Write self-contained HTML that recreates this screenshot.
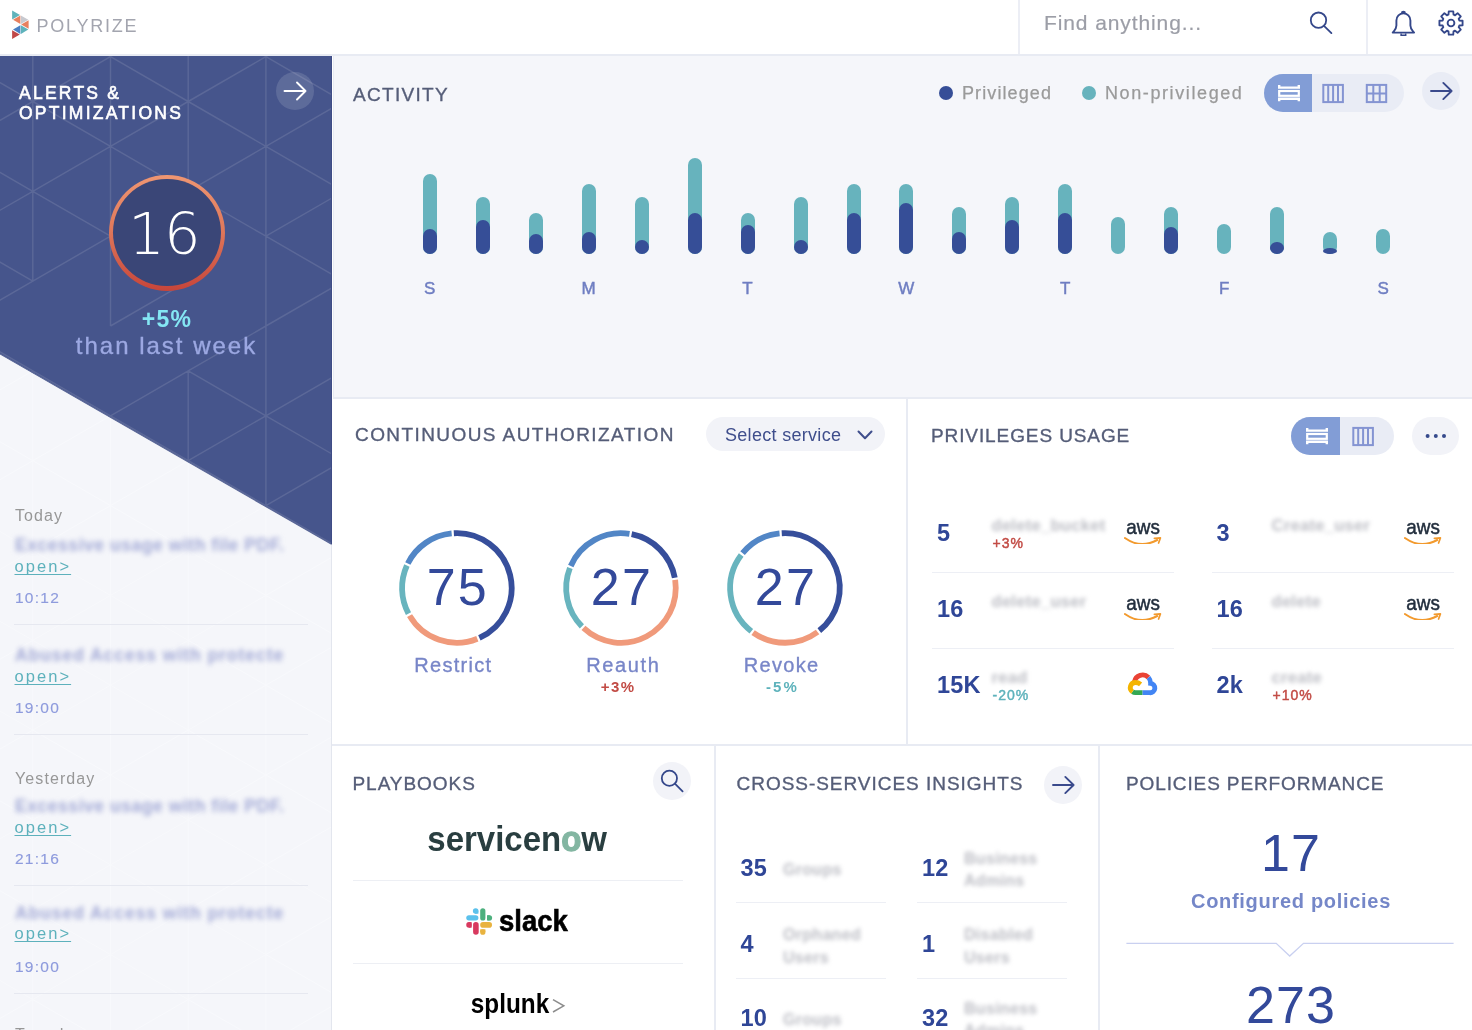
<!DOCTYPE html>
<html><head><meta charset="utf-8"><title>Polyrize</title>
<style>
*{box-sizing:border-box;margin:0;padding:0}
html,body{width:1472px;height:1030px;overflow:hidden;background:#fff;font-family:"Liberation Sans",Arial,sans-serif}
.abs{position:absolute}
#header{position:absolute;z-index:5;left:0;top:0;width:1472px;height:56px;background:#fff;border-bottom:2px solid #E8EBF3}
.htitle{position:absolute;font-size:19px;letter-spacing:1.1px;color:#555d78;-webkit-text-stroke:0.35px #555d78;white-space:nowrap;line-height:1}

.day{position:absolute;left:0;font-size:16px;color:#979797;letter-spacing:1.1px;margin-top:2.5px;line-height:1;white-space:nowrap}
.atitle{position:absolute;left:0;font-size:17.5px;font-weight:bold;color:#A2A9D6;margin-top:0.7px;letter-spacing:0.55px;line-height:20px;white-space:nowrap;filter:blur(2.4px)}
.aopen{position:absolute;left:-0.5px;font-size:16.5px;color:#5DB1BC;letter-spacing:2.05px;line-height:1;margin-top:3px;text-decoration:underline;text-decoration-skip-ink:none;text-underline-offset:2.2px;text-decoration-thickness:1px;white-space:nowrap}
.atime{position:absolute;left:0;font-size:15.5px;color:#8E9BDD;letter-spacing:1.25px;margin-top:0.5px;-webkit-text-stroke:0.15px #8E9BDD;line-height:1;white-space:nowrap}
.adiv{position:absolute;left:-1px;width:294px;height:1px;background:#E6E8F0}

.leg{font-size:18px;color:#9A9A9A;letter-spacing:1.1px;line-height:1;white-space:nowrap;-webkit-text-stroke:0.25px #9A9A9A}
.tog{background:#E9ECF5;border-radius:19px}
.togon{background:#829DD6;border-radius:19px 0 0 19px}
.bt{position:absolute;width:14px;background:#67B3BD;border-radius:7px}
.bd{position:absolute;width:14px;background:#364E97;border-radius:7px}
.dl{position:absolute;top:279.5px;width:40px;text-align:center;font-size:17px;color:#6F7EC2;line-height:1;-webkit-text-stroke:0.45px #6F7EC2}

.dnum{position:absolute;top:561px;width:100px;text-align:center;font-size:52px;color:#33499A;line-height:1;letter-spacing:2.2px;text-indent:2px}
.dlab{position:absolute;top:655px;width:106px;text-align:center;font-size:20px;color:#7886C8;line-height:1;letter-spacing:1.3px;-webkit-text-stroke:0.35px #7886C8}
.dpct{position:absolute;top:678.5px;width:106px;text-align:center;font-size:15px;font-weight:bold;line-height:1;letter-spacing:1.4px}

.punum{position:absolute;font-size:23.5px;font-weight:bold;color:#2F4697;line-height:1;white-space:nowrap;letter-spacing:0.2px}
.pulab{position:absolute;font-size:16.5px;font-weight:bold;color:#BCBDC4;line-height:1;white-space:nowrap;filter:blur(2.2px);letter-spacing:0.3px}
.pupct{position:absolute;font-size:14px;font-weight:normal;-webkit-text-stroke:0.45px currentColor;line-height:1;white-space:nowrap;letter-spacing:1px}

.csilab{position:absolute;font-size:16px;font-weight:bold;color:#BCBDC4;line-height:22.5px;white-space:nowrap;filter:blur(2.2px);letter-spacing:0.3px}
.panel{position:absolute;background:#fff}
</style></head>
<body>
<!-- HEADER -->
<div id="header">
  <svg class="abs" style="left:0;top:0" width="40" height="50" viewBox="0 0 40 50">
    <polygon points="12.1,10.5 12.1,19.5 20,15" fill="#5FB3BB"/>
    <polygon points="20.4,15.6 20.4,24 13,19.8" fill="#E8805E"/>
    <polygon points="20.9,15.6 20.9,24 28.3,19.8" fill="#C8C9CF"/>
    <polygon points="28.6,20.3 28.6,28.8 21.2,24.5" fill="#E8805E"/>
    <polygon points="20.4,25.2 20.4,34 13,29.6" fill="#4A80C4"/>
    <polygon points="20.9,25.2 20.9,34 28.3,29.6" fill="#5FB3BB"/>
    <polygon points="12.1,30.2 12.1,39 19.8,34.6" fill="#C04848"/>
  </svg>
  <div id="logotext" class="abs" style="left:36.6px;top:17px;font-size:18px;letter-spacing:1.75px;color:#A3A5AF;line-height:1">POLYRIZE</div>
  <div class="abs" style="left:1018px;top:0;width:2px;height:54px;background:#ECEEF5"></div>
  <div id="find" class="abs" style="left:1044px;top:12px;font-size:21px;letter-spacing:0.9px;color:#9C9EA7;line-height:1;-webkit-text-stroke:0.2px #9C9EA7">Find anything...</div>
  <svg class="abs" style="left:1306px;top:8px" width="30" height="30" viewBox="0 0 30 30">
    <circle cx="12.5" cy="12.2" r="7.7" fill="none" stroke="#34478A" stroke-width="1.8"/>
    <line x1="18" y1="17.8" x2="25.4" y2="25.1" stroke="#34478A" stroke-width="1.8" stroke-linecap="round"/>
  </svg>
  <div class="abs" style="left:1366px;top:0;width:2px;height:54px;background:#ECEEF5"></div>
  <svg class="abs" style="left:1388px;top:6px" width="32" height="34" viewBox="0 0 32 34">
    <path d="M8.4 14.4 A7.0 7.0 0 0 1 22.4 14.4 L22.4 19.6 C22.4 23.2 24.6 24.6 26.1 26.6 L4.7 26.6 C6.2 24.6 8.4 23.2 8.4 19.6 Z" fill="none" stroke="#34478A" stroke-width="1.9" stroke-linejoin="round"/>
    <ellipse cx="15.4" cy="6.2" rx="2.4" ry="1.5" fill="#34478A"/>
    <path d="M13.1 27.4 V29.2 H17.7 V27.4" fill="none" stroke="#34478A" stroke-width="1.5"/>
  </svg>
  <svg class="abs" style="left:1436px;top:8px" width="30" height="30" viewBox="0 0 30 30">
    <g transform="translate(15,15)" fill="none" stroke="#34478A" stroke-width="1.85" stroke-linejoin="round">
      <path d="M-2.54 -8.32 L-2.25 -11.58 L2.25 -11.58 L2.54 -8.32 A8.7 8.7 0 0 1 4.08 -7.68 L6.60 -9.78 L9.78 -6.60 L7.68 -4.08 A8.7 8.7 0 0 1 8.32 -2.54 L11.58 -2.25 L11.58 2.25 L8.32 2.54 A8.7 8.7 0 0 1 7.68 4.08 L9.78 6.60 L6.60 9.78 L4.08 7.68 A8.7 8.7 0 0 1 2.54 8.32 L2.25 11.58 L-2.25 11.58 L-2.54 8.32 A8.7 8.7 0 0 1 -4.08 7.68 L-6.60 9.78 L-9.78 6.60 L-7.68 4.08 A8.7 8.7 0 0 1 -8.32 2.54 L-11.58 2.25 L-11.58 -2.25 L-8.32 -2.54 A8.7 8.7 0 0 1 -7.68 -4.08 L-9.78 -6.60 L-6.60 -9.78 L-4.08 -7.68 A8.7 8.7 0 0 1 -2.54 -8.32 Z"/>
      <circle r="3.4"/>
    </g>
  </svg>
</div>

<!-- SIDEBAR -->
<div id="sidebar" class="abs" style="left:0;top:0;width:332px;height:1030px;background:#F5F6FA;overflow:hidden">
  <svg class="abs" style="left:0;top:0" width="332" height="1030" viewBox="0 0 332 1030">
    <defs><clipPath id="cb"><polygon points="0,56 332,56 332,544.5 0,353.9"/></clipPath><clipPath id="cl"><polygon points="0,353.9 332,544.5 332,1030 0,1030"/></clipPath></defs>
    <path clip-path="url(#cl)" d="M-44.9 236.2L-44.9 326.0 M-44.9 326.0L-44.9 415.8 M-44.9 326.0L32.8 370.9 M-44.9 326.0L32.8 281.1 M-44.9 415.8L-44.9 505.6 M-44.9 415.8L32.8 460.7 M-44.9 415.8L32.8 370.9 M-44.9 505.6L-44.9 595.4 M-44.9 505.6L32.8 550.5 M-44.9 505.6L32.8 460.7 M-44.9 595.4L-44.9 685.2 M-44.9 595.4L32.8 640.3 M-44.9 595.4L32.8 550.5 M-44.9 685.2L-44.9 775.0 M-44.9 685.2L32.8 730.1 M-44.9 685.2L32.8 640.3 M-44.9 775.0L-44.9 864.8 M-44.9 775.0L32.8 819.9 M-44.9 775.0L32.8 730.1 M-44.9 864.8L-44.9 954.6 M-44.9 864.8L32.8 909.7 M-44.9 864.8L32.8 819.9 M-44.9 954.6L-44.9 1044.4 M-44.9 954.6L32.8 999.5 M-44.9 954.6L32.8 909.7 M-44.9 1044.4L32.8 999.5 M32.8 281.1L32.8 370.9 M32.8 281.1L110.5 326.0 M32.8 370.9L32.8 460.7 M32.8 370.9L110.5 415.8 M32.8 370.9L110.5 326.0 M32.8 460.7L32.8 550.5 M32.8 460.7L110.5 505.6 M32.8 460.7L110.5 415.8 M32.8 550.5L32.8 640.3 M32.8 550.5L110.5 595.4 M32.8 550.5L110.5 505.6 M32.8 640.3L32.8 730.1 M32.8 640.3L110.5 685.2 M32.8 640.3L110.5 595.4 M32.8 730.1L32.8 819.9 M32.8 730.1L110.5 775.0 M32.8 730.1L110.5 685.2 M32.8 819.9L32.8 909.7 M32.8 819.9L110.5 864.8 M32.8 819.9L110.5 775.0 M32.8 909.7L32.8 999.5 M32.8 909.7L110.5 954.6 M32.8 909.7L110.5 864.8 M32.8 999.5L32.8 1089.3 M32.8 999.5L110.5 1044.4 M32.8 999.5L110.5 954.6 M110.5 236.2L110.5 326.0 M110.5 326.0L110.5 415.8 M110.5 326.0L188.2 370.9 M110.5 326.0L188.2 281.1 M110.5 415.8L110.5 505.6 M110.5 415.8L188.2 460.7 M110.5 415.8L188.2 370.9 M110.5 505.6L110.5 595.4 M110.5 505.6L188.2 550.5 M110.5 505.6L188.2 460.7 M110.5 595.4L110.5 685.2 M110.5 595.4L188.2 640.3 M110.5 595.4L188.2 550.5 M110.5 685.2L110.5 775.0 M110.5 685.2L188.2 730.1 M110.5 685.2L188.2 640.3 M110.5 775.0L110.5 864.8 M110.5 775.0L188.2 819.9 M110.5 775.0L188.2 730.1 M110.5 864.8L110.5 954.6 M110.5 864.8L188.2 909.7 M110.5 864.8L188.2 819.9 M110.5 954.6L110.5 1044.4 M110.5 954.6L188.2 999.5 M110.5 954.6L188.2 909.7 M110.5 1044.4L188.2 999.5 M188.2 281.1L188.2 370.9 M188.2 281.1L265.9 326.0 M188.2 370.9L188.2 460.7 M188.2 370.9L265.9 415.8 M188.2 370.9L265.9 326.0 M188.2 460.7L188.2 550.5 M188.2 460.7L265.9 505.6 M188.2 460.7L265.9 415.8 M188.2 550.5L188.2 640.3 M188.2 550.5L265.9 595.4 M188.2 550.5L265.9 505.6 M188.2 640.3L188.2 730.1 M188.2 640.3L265.9 685.2 M188.2 640.3L265.9 595.4 M188.2 730.1L188.2 819.9 M188.2 730.1L265.9 775.0 M188.2 730.1L265.9 685.2 M188.2 819.9L188.2 909.7 M188.2 819.9L265.9 864.8 M188.2 819.9L265.9 775.0 M188.2 909.7L188.2 999.5 M188.2 909.7L265.9 954.6 M188.2 909.7L265.9 864.8 M188.2 999.5L188.2 1089.3 M188.2 999.5L265.9 1044.4 M188.2 999.5L265.9 954.6 M265.9 236.2L265.9 326.0 M265.9 326.0L265.9 415.8 M265.9 326.0L343.6 370.9 M265.9 326.0L343.6 281.1 M265.9 415.8L265.9 505.6 M265.9 415.8L343.6 460.7 M265.9 415.8L343.6 370.9 M265.9 505.6L265.9 595.4 M265.9 505.6L343.6 550.5 M265.9 505.6L343.6 460.7 M265.9 595.4L265.9 685.2 M265.9 595.4L343.6 640.3 M265.9 595.4L343.6 550.5 M265.9 685.2L265.9 775.0 M265.9 685.2L343.6 730.1 M265.9 685.2L343.6 640.3 M265.9 775.0L265.9 864.8 M265.9 775.0L343.6 819.9 M265.9 775.0L343.6 730.1 M265.9 864.8L265.9 954.6 M265.9 864.8L343.6 909.7 M265.9 864.8L343.6 819.9 M265.9 954.6L265.9 1044.4 M265.9 954.6L343.6 999.5 M265.9 954.6L343.6 909.7 M265.9 1044.4L343.6 999.5" stroke="#F8F9FC" stroke-width="1" fill="none"/>
    <polygon points="0,56 332,56 332,544.5 0,353.9" fill="#46558C"/>
    <path clip-path="url(#cb)" stroke-opacity="1" d="M-44.9 -33.2L-44.9 56.6 M-44.9 56.6L-44.9 146.4 M-44.9 56.6L32.8 101.5 M-44.9 56.6L32.8 11.7 M-44.9 146.4L-44.9 236.2 M-44.9 146.4L32.8 191.3 M-44.9 146.4L32.8 101.5 M-44.9 236.2L-44.9 326.0 M-44.9 236.2L32.8 281.1 M-44.9 236.2L32.8 191.3 M-44.9 326.0L-44.9 415.8 M-44.9 326.0L32.8 370.9 M-44.9 326.0L32.8 281.1 M-44.9 415.8L-44.9 505.6 M-44.9 415.8L32.8 460.7 M-44.9 415.8L32.8 370.9 M-44.9 505.6L-44.9 595.4 M-44.9 505.6L32.8 550.5 M-44.9 505.6L32.8 460.7 M-44.9 595.4L-44.9 685.2 M-44.9 595.4L32.8 640.3 M-44.9 595.4L32.8 550.5 M32.8 11.7L32.8 101.5 M32.8 11.7L110.5 56.6 M32.8 101.5L32.8 191.3 M32.8 101.5L110.5 146.4 M32.8 101.5L110.5 56.6 M32.8 191.3L32.8 281.1 M32.8 191.3L110.5 236.2 M32.8 191.3L110.5 146.4 M32.8 281.1L110.5 236.2 M32.8 370.9L32.8 460.7 M32.8 370.9L110.5 415.8 M32.8 460.7L32.8 550.5 M32.8 460.7L110.5 505.6 M32.8 460.7L110.5 415.8 M32.8 550.5L32.8 640.3 M32.8 550.5L110.5 595.4 M32.8 550.5L110.5 505.6 M32.8 640.3L110.5 595.4 M110.5 -33.2L110.5 56.6 M110.5 56.6L110.5 146.4 M110.5 56.6L188.2 101.5 M110.5 56.6L188.2 11.7 M110.5 146.4L110.5 236.2 M110.5 146.4L188.2 191.3 M110.5 146.4L188.2 101.5 M110.5 236.2L110.5 326.0 M110.5 236.2L188.2 281.1 M110.5 236.2L188.2 191.3 M110.5 326.0L188.2 281.1 M110.5 415.8L110.5 505.6 M110.5 415.8L188.2 460.7 M110.5 415.8L188.2 370.9 M110.5 505.6L110.5 595.4 M110.5 505.6L188.2 550.5 M110.5 505.6L188.2 460.7 M110.5 595.4L110.5 685.2 M110.5 595.4L188.2 640.3 M110.5 595.4L188.2 550.5 M188.2 11.7L188.2 101.5 M188.2 11.7L265.9 56.6 M188.2 101.5L188.2 191.3 M188.2 101.5L265.9 146.4 M188.2 101.5L265.9 56.6 M188.2 191.3L188.2 281.1 M188.2 191.3L265.9 236.2 M188.2 191.3L265.9 146.4 M188.2 370.9L188.2 460.7 M188.2 370.9L265.9 415.8 M188.2 370.9L265.9 326.0 M188.2 460.7L188.2 550.5 M188.2 460.7L265.9 505.6 M188.2 460.7L265.9 415.8 M188.2 550.5L188.2 640.3 M188.2 550.5L265.9 595.4 M188.2 550.5L265.9 505.6 M188.2 640.3L265.9 595.4 M265.9 -33.2L265.9 56.6 M265.9 56.6L265.9 146.4 M265.9 56.6L343.6 101.5 M265.9 56.6L343.6 11.7 M265.9 146.4L265.9 236.2 M265.9 146.4L343.6 191.3 M265.9 146.4L343.6 101.5 M265.9 236.2L265.9 326.0 M265.9 236.2L343.6 281.1 M265.9 236.2L343.6 191.3 M265.9 326.0L265.9 415.8 M265.9 326.0L343.6 281.1 M265.9 415.8L265.9 505.6 M265.9 415.8L343.6 460.7 M265.9 415.8L343.6 370.9 M265.9 505.6L265.9 595.4 M265.9 505.6L343.6 550.5 M265.9 505.6L343.6 460.7 M265.9 595.4L265.9 685.2 M265.9 595.4L343.6 640.3 M265.9 595.4L343.6 550.5" stroke="#5B6898" stroke-width="1.45" fill="none"/>
    <path d="M0 353.9 L332 544.5" stroke="#5A6797" stroke-width="1.2" fill="none"/>
    <path d="M331.5 56 V544.5" stroke="#3F4C86" stroke-width="1"/>
    <path d="M331.5 544.5 V1030" stroke="#E3E6EE" stroke-width="1"/>
  </svg>
  <div id="alt1" class="abs" style="left:19px;top:83px;font-size:17.5px;line-height:20.4px;letter-spacing:2.25px;color:#fff;-webkit-text-stroke:0.6px #fff;white-space:nowrap">ALERTS &amp;<br>OPTIMIZATIONS</div>
  <div class="abs" style="left:276px;top:72px;width:38px;height:38px;border-radius:50%;background:rgba(255,255,255,0.13)"></div>
  <svg class="abs" style="left:276px;top:72px" width="38" height="38" viewBox="0 0 38 38">
    <path d="M8.5 19 L29.5 19 M21 10.5 L29.5 19 L21 27.5" fill="none" stroke="#fff" stroke-width="1.9" stroke-linecap="round" stroke-linejoin="round"/>
  </svg>
  <div class="abs" style="left:108.9px;top:174.5px;width:116px;height:116px;border-radius:50%;background:linear-gradient(180deg,#EF9672 0%,#E07A5C 45%,#C7453A 100%)"></div>
  <div class="abs" style="left:113.1px;top:178.7px;width:107.6px;height:107.6px;border-radius:50%;background:#3A4677"></div>
  <div id="n16" class="abs" style="left:107.9px;top:177px;width:116px;height:116px;line-height:116px;text-align:center;font-family:'DejaVu Sans';font-weight:200;font-size:57.5px;color:#fff;letter-spacing:-1px;text-indent:-4px">16</div>
  <div id="p5" class="abs" style="left:0;top:307.5px;width:333px;text-align:center;font-size:23px;font-weight:bold;color:#84E7F4;line-height:1;letter-spacing:1.2px;text-indent:1px">+5%</div>
  <div id="tlw" class="abs" style="left:0;top:334px;width:333px;text-align:center;font-size:24px;color:#9CA8E2;letter-spacing:2.0px;line-height:1;-webkit-text-stroke:0.35px #9CA8E2">than last week</div>
  <div class="abs" style="left:15px;top:0;width:300px;font-size:15.5px;color:#979797;letter-spacing:0.9px">
    <div class="day" style="top:505px">Today</div>
    <div class="atitle" style="top:534px">Excessive usage with file PDF.</div>
    <div class="aopen" style="top:555px">open&gt;</div>
    <div class="atime" style="top:589px">10:12</div>
    <div class="adiv" style="top:624px"></div>
    <div class="atitle" style="top:644px;letter-spacing:0.95px">Abused Access with protecte</div>
    <div class="aopen" style="top:665px">open&gt;</div>
    <div class="atime" style="top:699px">19:00</div>
    <div class="adiv" style="top:734px"></div>
    <div class="day" style="top:768px">Yesterday</div>
    <div class="atitle" style="top:795px">Excessive usage with file PDF.</div>
    <div class="aopen" style="top:816px">open&gt;</div>
    <div class="atime" style="top:850px">21:16</div>
    <div class="adiv" style="top:885px"></div>
    <div class="atitle" style="top:902px;letter-spacing:0.95px">Abused Access with protecte</div>
    <div class="aopen" style="top:922px">open&gt;</div>
    <div class="atime" style="top:958.5px">19:00</div>
    <div class="adiv" style="top:993px"></div>
    <div class="day" style="top:1024px">Tuesday</div>
  </div>


</div>

<!-- ACTIVITY -->
<div id="activity" class="abs" style="left:333px;top:56px;width:1139px;height:343px;background:#F5F6FA;border-left:1px solid #E8EBF3;border-bottom:2px solid #E8EBF3"></div>

<div class="abs" style="left:0;top:0">
  <div id="t_act" class="htitle" style="left:353px;top:85px;letter-spacing:1.3px">ACTIVITY</div>
  <div class="abs" style="left:938.8px;top:86px;width:14px;height:14px;border-radius:50%;background:#364E97"></div>
  <div id="leg1" class="abs leg" style="left:962px;top:84px">Privileged</div>
  <div class="abs" style="left:1081.8px;top:86px;width:14px;height:14px;border-radius:50%;background:#67B3BD"></div>
  <div id="leg2" class="abs leg" style="left:1105px;top:84px;letter-spacing:1.6px">Non-privileged</div>
  <div class="abs tog" style="left:1263.5px;top:74.3px;width:140px;height:38px"></div>
  <div class="abs togon" style="left:1263.5px;top:74.3px;width:48.5px;height:38px"></div>
  <svg class="abs" style="left:1274px;top:82px" width="30" height="22" viewBox="0 0 30 22">
    <path d="M5.2 3 V5.6 H24.8 V3" fill="none" stroke="#fff" stroke-width="2.4"/>
    <rect x="5.2" y="9" width="19.6" height="4.8" fill="none" stroke="#fff" stroke-width="2.2"/>
    <path d="M5.2 19.3 V16.7 H24.8 V19.3" fill="none" stroke="#fff" stroke-width="2.4"/>
  </svg>
  <svg class="abs" style="left:1320px;top:82px" width="26" height="22" viewBox="0 0 26 22">
    <rect x="3.3" y="2.9" width="19.6" height="17.2" fill="none" stroke="#8494D2" stroke-width="2"/>
    <path d="M8.2 3 V20 M13.1 3 V20 M18 3 V20" stroke="#8494D2" stroke-width="2"/>
  </svg>
  <svg class="abs" style="left:1363px;top:82px" width="26" height="22" viewBox="0 0 26 22">
    <rect x="3.8" y="2.9" width="19.4" height="17.2" fill="none" stroke="#8494D2" stroke-width="2"/>
    <path d="M10.3 3 V20 M16.7 3 V20 M4 11.5 H23" stroke="#8494D2" stroke-width="2"/>
  </svg>
  <div class="abs" style="left:1422px;top:72.3px;width:38px;height:38px;border-radius:50%;background:#E9ECF5"></div>
  <svg class="abs" style="left:1422px;top:72.3px" width="38" height="38" viewBox="0 0 38 38">
    <path d="M9 19 L29.6 19 M21.3 10.9 L29.6 19 L21.3 27.1" fill="none" stroke="#3A4A8C" stroke-width="1.9" stroke-linecap="round" stroke-linejoin="round"/>
  </svg>
  <div class="bt" style="left:422.7px;top:173.8px;height:80.4px"></div>
  <div class="bd" style="left:422.7px;top:229.1px;height:25.1px"></div>
  <div class="bt" style="left:475.7px;top:196.8px;height:57.4px"></div>
  <div class="bd" style="left:475.7px;top:220.3px;height:33.9px"></div>
  <div class="bt" style="left:528.6px;top:213.2px;height:41.0px"></div>
  <div class="bd" style="left:528.6px;top:234.4px;height:19.8px"></div>
  <div class="bt" style="left:581.6px;top:183.9px;height:70.3px"></div>
  <div class="bd" style="left:581.6px;top:232.1px;height:22.1px"></div>
  <div class="bt" style="left:634.6px;top:196.8px;height:57.4px"></div>
  <div class="bd" style="left:634.6px;top:239.5px;height:14.7px"></div>
  <div class="bt" style="left:687.5px;top:158.0px;height:96.2px"></div>
  <div class="bd" style="left:687.5px;top:213.2px;height:41.0px"></div>
  <div class="bt" style="left:740.5px;top:213.2px;height:41.0px"></div>
  <div class="bd" style="left:740.5px;top:224.5px;height:29.7px"></div>
  <div class="bt" style="left:793.5px;top:196.8px;height:57.4px"></div>
  <div class="bd" style="left:793.5px;top:239.5px;height:14.7px"></div>
  <div class="bt" style="left:846.5px;top:183.9px;height:70.3px"></div>
  <div class="bd" style="left:846.5px;top:212.7px;height:41.5px"></div>
  <div class="bt" style="left:899.4px;top:183.9px;height:70.3px"></div>
  <div class="bd" style="left:899.4px;top:203.0px;height:51.2px"></div>
  <div class="bt" style="left:952.4px;top:207.4px;height:46.8px"></div>
  <div class="bd" style="left:952.4px;top:231.6px;height:22.6px"></div>
  <div class="bt" style="left:1005.4px;top:196.8px;height:57.4px"></div>
  <div class="bd" style="left:1005.4px;top:220.3px;height:33.9px"></div>
  <div class="bt" style="left:1058.3px;top:183.9px;height:70.3px"></div>
  <div class="bd" style="left:1058.3px;top:212.7px;height:41.5px"></div>
  <div class="bt" style="left:1111.3px;top:217.1px;height:37.1px"></div>
  <div class="bt" style="left:1164.3px;top:207.4px;height:46.8px"></div>
  <div class="bd" style="left:1164.3px;top:226.8px;height:27.4px"></div>
  <div class="bt" style="left:1217.2px;top:224.2px;height:30.0px"></div>
  <div class="bt" style="left:1270.2px;top:207.4px;height:46.8px"></div>
  <div class="bd" style="left:1270.2px;top:241.8px;height:12.4px;border-radius:50%"></div>
  <div class="bt" style="left:1323.2px;top:231.6px;height:22.6px"></div>
  <div class="bd" style="left:1323.2px;top:248.0px;height:6.2px;border-radius:50%"></div>
  <div class="bt" style="left:1376.2px;top:229.1px;height:25.1px"></div>
  <div class="dl" style="left:409.7px">S</div><div class="dl" style="left:568.6px">M</div><div class="dl" style="left:727.5px">T</div><div class="dl" style="left:886.4px">W</div><div class="dl" style="left:1045.3px">T</div><div class="dl" style="left:1204.2px">F</div><div class="dl" style="left:1363.2px">S</div>
</div>



<!-- CONTINUOUS AUTHORIZATION -->
<div id="t_ca" class="htitle" style="left:355px;top:424.5px;letter-spacing:1.42px">CONTINUOUS AUTHORIZATION</div>
<div class="abs" style="left:705.8px;top:417px;width:179px;height:34px;border-radius:17px;background:#F2F3F8"></div>
<div id="selsvc" class="abs" style="left:725px;top:426px;font-size:18px;color:#3F4E8C;line-height:1;letter-spacing:0.3px;white-space:nowrap">Select service</div>
<svg class="abs" style="left:855px;top:427px" width="20" height="16" viewBox="0 0 20 16">
  <path d="M3.5 4.5 L10 11.2 L16.5 4.5" fill="none" stroke="#3F4E8C" stroke-width="2" stroke-linecap="round" stroke-linejoin="round"/>
</svg>
<svg class="abs" style="left:0;top:0" width="900" height="700" viewBox="0 0 900 700">
  <g fill="none" stroke-width="5.8">
    <path d="M453.84 533.23 A54.80 54.80 0 0 1 479.36 637.91" stroke="#364E9B"/>
    <path d="M477.33 638.78 A54.80 54.80 0 0 1 409.56 615.64" stroke="#F09A7B"/>
    <path d="M408.49 613.72 A54.80 54.80 0 0 1 406.89 565.44" stroke="#68B4BE"/>
    <path d="M407.83 563.46 A54.80 54.80 0 0 1 451.65 533.40" stroke="#5286C6"/>
    <path d="M631.64 534.20 A54.80 54.80 0 0 1 674.79 577.73" stroke="#364E9B"/>
    <path d="M675.16 579.90 A54.80 54.80 0 0 1 583.47 627.93" stroke="#F09A7B"/>
    <path d="M581.90 626.39 A54.80 54.80 0 0 1 569.91 568.00" stroke="#68B4BE"/>
    <path d="M570.75 565.97 A54.80 54.80 0 0 1 629.48 533.82" stroke="#5286C6"/>
    <path d="M781.75 533.24 A54.80 54.80 0 0 1 819.33 630.63" stroke="#364E9B"/>
    <path d="M817.58 631.97 A54.80 54.80 0 0 1 753.09 632.54" stroke="#F09A7B"/>
    <path d="M751.32 631.22 A54.80 54.80 0 0 1 741.21 554.93" stroke="#68B4BE"/>
    <path d="M742.57 553.20 A54.80 54.80 0 0 1 779.55 533.42" stroke="#5286C6"/>

  </g>
</svg>
<div id="n75" class="dnum" style="left:406.85px">75</div>
<div id="n27a" class="dnum" style="left:570.95px">27</div>
<div id="n27b" class="dnum" style="left:734.95px">27</div>
<div id="lrest" class="dlab" style="left:400.35px">Restrict</div>
<div id="lreau" class="dlab" style="left:570.35px;letter-spacing:1.6px">Reauth</div>
<div id="lrevo" class="dlab" style="left:728.65px">Revoke</div>
<div id="p3" class="dpct" style="left:565.2px;color:#C24B45">+3%</div>
<div id="m5" class="dpct" style="left:729.5px;letter-spacing:2.1px;color:#5DB2BB">-5%</div>
<div class="abs" style="left:906px;top:399px;width:2px;height:346px;background:#E8EBF3"></div>
<div class="abs" style="left:332px;top:744.2px;width:1140px;height:1.8px;background:#E8EBF3"></div>

<!-- PRIVILEGES USAGE -->
<div id="t_pu" class="htitle" style="left:931px;top:426px;letter-spacing:0.9px">PRIVILEGES USAGE</div>
<div class="abs tog" style="left:1291px;top:416.6px;width:103px;height:38px"></div>
<div class="abs togon" style="left:1291px;top:416.6px;width:49.3px;height:38px"></div>
<svg class="abs" style="left:1301.5px;top:424.5px" width="30" height="22" viewBox="0 0 30 22">
  <path d="M5.2 3 V5.6 H24.8 V3" fill="none" stroke="#fff" stroke-width="2.4"/>
  <rect x="5.2" y="9" width="19.6" height="4.8" fill="none" stroke="#fff" stroke-width="2.2"/>
  <path d="M5.2 19.3 V16.7 H24.8 V19.3" fill="none" stroke="#fff" stroke-width="2.4"/>
</svg>
<svg class="abs" style="left:1349.5px;top:424.5px" width="26" height="22" viewBox="0 0 26 22">
  <rect x="3.3" y="2.9" width="19.6" height="17.2" fill="none" stroke="#8494D2" stroke-width="2"/>
  <path d="M8.2 3 V20 M13.1 3 V20 M18 3 V20" stroke="#8494D2" stroke-width="2"/>
</svg>
<div class="abs" style="left:1411.5px;top:416.6px;width:47.5px;height:38px;border-radius:19px;background:#F2F3F8"></div>
<svg class="abs" style="left:1411.5px;top:416.6px" width="48" height="38" viewBox="0 0 48 38">
  <circle cx="15.6" cy="19" r="2" fill="#364A8C"/><circle cx="23.8" cy="19" r="2" fill="#364A8C"/><circle cx="32" cy="19" r="2" fill="#364A8C"/>
</svg>
<div class="punum" style="left:937.0px;top:522.0px">5</div>
<div class="pulab" style="left:991.5px;top:517.0px">delete_bucket</div>
<div class="pupct" style="left:992.5px;top:536.0px;color:#C24B45">+3%</div>
<svg class="abs" style="left:1124.0px;top:517.5px" width="40" height="26" viewBox="0 0 40 26">
  <text x="2.3" y="16.3" textLength="33.6" lengthAdjust="spacingAndGlyphs" font-family="Liberation Sans" font-size="21" fill="#232F3E" stroke="#232F3E" stroke-width="0.5">aws</text>
  <path d="M0.9 20.0 Q16.5 31.0 33.2 22.0" fill="none" stroke="#F29A2E" stroke-width="2.1" stroke-linecap="round"/>
  <path d="M30.4 20.4 L36.4 19.9 L34.6 25.0" fill="none" stroke="#F29A2E" stroke-width="1.7" stroke-linecap="round" stroke-linejoin="round"/>
</svg>
<div class="punum" style="left:1216.5px;top:522.0px">3</div>
<div class="pulab" style="left:1271.5px;top:517.0px">Create_user</div>
<svg class="abs" style="left:1404.0px;top:517.5px" width="40" height="26" viewBox="0 0 40 26">
  <text x="2.3" y="16.3" textLength="33.6" lengthAdjust="spacingAndGlyphs" font-family="Liberation Sans" font-size="21" fill="#232F3E" stroke="#232F3E" stroke-width="0.5">aws</text>
  <path d="M0.9 20.0 Q16.5 31.0 33.2 22.0" fill="none" stroke="#F29A2E" stroke-width="2.1" stroke-linecap="round"/>
  <path d="M30.4 20.4 L36.4 19.9 L34.6 25.0" fill="none" stroke="#F29A2E" stroke-width="1.7" stroke-linecap="round" stroke-linejoin="round"/>
</svg>
<div class="punum" style="left:937.0px;top:598.0px">16</div>
<div class="pulab" style="left:991.5px;top:593.0px">delete_user</div>
<svg class="abs" style="left:1124.0px;top:593.5px" width="40" height="26" viewBox="0 0 40 26">
  <text x="2.3" y="16.3" textLength="33.6" lengthAdjust="spacingAndGlyphs" font-family="Liberation Sans" font-size="21" fill="#232F3E" stroke="#232F3E" stroke-width="0.5">aws</text>
  <path d="M0.9 20.0 Q16.5 31.0 33.2 22.0" fill="none" stroke="#F29A2E" stroke-width="2.1" stroke-linecap="round"/>
  <path d="M30.4 20.4 L36.4 19.9 L34.6 25.0" fill="none" stroke="#F29A2E" stroke-width="1.7" stroke-linecap="round" stroke-linejoin="round"/>
</svg>
<div class="punum" style="left:1216.5px;top:598.0px">16</div>
<div class="pulab" style="left:1271.5px;top:593.0px">delete</div>
<svg class="abs" style="left:1404.0px;top:593.5px" width="40" height="26" viewBox="0 0 40 26">
  <text x="2.3" y="16.3" textLength="33.6" lengthAdjust="spacingAndGlyphs" font-family="Liberation Sans" font-size="21" fill="#232F3E" stroke="#232F3E" stroke-width="0.5">aws</text>
  <path d="M0.9 20.0 Q16.5 31.0 33.2 22.0" fill="none" stroke="#F29A2E" stroke-width="2.1" stroke-linecap="round"/>
  <path d="M30.4 20.4 L36.4 19.9 L34.6 25.0" fill="none" stroke="#F29A2E" stroke-width="1.7" stroke-linecap="round" stroke-linejoin="round"/>
</svg>
<div class="punum" style="left:937.0px;top:674.0px">15K</div>
<div class="pulab" style="left:991.5px;top:669.0px">read</div>
<div class="pupct" style="left:992.5px;top:688.0px;color:#5DB2BB">-20%</div>
<svg class="abs" style="left:1124px;top:668px" width="38" height="30" viewBox="0 0 38 30">
  <g fill="none" stroke-width="4.8" stroke-linecap="butt">
    <path d="M18.6 24.7 H11.4 A5.1 5.1 0 0 1 8.47 23.78" stroke="#34A853"/>
    <path d="M10.4 13.9 A8.3 8.3 0 0 1 24.5 9.5" stroke="#EA4335"/>
    <path d="M8.47 23.78 A5.1 5.1 0 0 1 11.4 14.5 C13.6 14.5 15.2 15.2 16.6 16.4" stroke="#F4B400"/>
    <path d="M24.5 9.5 A8.3 8.3 0 0 1 26.6 15.3 A4.7 4.7 0 0 1 25.7 24.7 H18.6" stroke="#4285F4"/>
  </g>
</svg>
<div class="punum" style="left:1216.5px;top:674.0px">2k</div>
<div class="pulab" style="left:1271.5px;top:669.0px">create</div>
<div class="pupct" style="left:1272.5px;top:688.0px;color:#C24B45">+10%</div>
<div class="abs" style="left:932px;top:572.0px;width:242px;height:1.2px;background:#EDEFF5"></div>
<div class="abs" style="left:932px;top:647.5px;width:242px;height:1.2px;background:#EDEFF5"></div>
<div class="abs" style="left:1212px;top:572.0px;width:242px;height:1.2px;background:#EDEFF5"></div>
<div class="abs" style="left:1212px;top:647.5px;width:242px;height:1.2px;background:#EDEFF5"></div>

<!-- PLAYBOOKS -->
<div class="abs" style="left:714px;top:745px;width:2px;height:285px;background:#E8EBF3"></div>
<div class="abs" style="left:1098px;top:745px;width:2px;height:285px;background:#E8EBF3"></div>
<div id="t_pb" class="htitle" style="left:352.5px;top:774px;letter-spacing:0.95px">PLAYBOOKS</div>
<div class="abs" style="left:653px;top:762px;width:38px;height:38px;border-radius:50%;background:#F2F3F8"></div>
<svg class="abs" style="left:653px;top:762px" width="38" height="38" viewBox="0 0 38 38">
  <circle cx="16.4" cy="16.2" r="7.6" fill="none" stroke="#34478A" stroke-width="1.8"/>
  <line x1="21.9" y1="21.7" x2="29.6" y2="29.4" stroke="#34478A" stroke-width="1.8" stroke-linecap="round"/>
</svg>
<svg class="abs" style="left:420px;top:815px" width="200" height="45" viewBox="0 0 200 45">
  <text x="7.3" y="36" textLength="179.7" lengthAdjust="spacingAndGlyphs" font-family="Liberation Sans" font-weight="bold" font-size="35.6" fill="#293E40">servicen<tspan fill="#83B6A2" stroke="#83B6A2" stroke-width="1.3">o</tspan>w</text>
</svg>
<div class="abs" style="left:352.5px;top:879.5px;width:330px;height:1.2px;background:#EDEFF4"></div>
<svg class="abs" style="left:460px;top:900px" width="40" height="40" viewBox="0 0 40 40">
  <rect x="12.9" y="8.2" width="5.5" height="5.5" rx="2.6" fill="#5BC1EC"/><rect x="15" y="10.5" width="3.4" height="3.2" fill="#5BC1EC"/>
  <rect x="6.25" y="15.2" width="12.15" height="5.3" rx="2.65" fill="#5BC1EC"/>
  <rect x="20.2" y="8.2" width="5.2" height="12.3" rx="2.6" fill="#4DB07E"/>
  <rect x="27" y="15.2" width="5.1" height="5.3" rx="2.55" fill="#4DB07E"/><rect x="27" y="15.2" width="2.6" height="5.3" fill="#4DB07E"/>
  <rect x="6.25" y="22.1" width="5.4" height="5.6" rx="2.7" fill="#D8395F"/><rect x="9" y="22.1" width="2.65" height="5.6" fill="#D8395F"/>
  <rect x="13.1" y="22.1" width="5.6" height="12.7" rx="2.8" fill="#D8395F"/>
  <rect x="20.2" y="22.1" width="11.8" height="5.6" rx="2.8" fill="#E9B33F"/>
  <rect x="20.2" y="29.3" width="5.2" height="5.5" rx="2.6" fill="#E9B33F"/><rect x="20.2" y="29.3" width="5.2" height="2.7" fill="#E9B33F"/>
</svg>
<svg class="abs" style="left:495px;top:900px" width="80" height="40" viewBox="0 0 80 40">
  <text x="4" y="30.6" textLength="68.8" lengthAdjust="spacingAndGlyphs" font-family="Liberation Sans" font-weight="bold" font-size="30" fill="#000" stroke="#000" stroke-width="0.6">slack</text>
</svg>
<div class="abs" style="left:352.5px;top:963px;width:330px;height:1.2px;background:#EDEFF4"></div>
<svg class="abs" style="left:465px;top:985px" width="105" height="40" viewBox="0 0 105 40">
  <text x="5.8" y="27.8" textLength="78.4" lengthAdjust="spacingAndGlyphs" font-family="Liberation Sans" font-weight="bold" font-size="28.5" fill="#000">splunk</text>
  <path d="M88 14.6 L98.8 20.8 L88 27" fill="none" stroke="#8C8C8C" stroke-width="1.5"/>
</svg>

<!-- CROSS-SERVICES INSIGHTS -->
<div id="t_csi" class="htitle" style="left:736.5px;top:774px;letter-spacing:0.97px">CROSS-SERVICES INSIGHTS</div>
<div class="abs" style="left:1043.8px;top:766px;width:38px;height:38px;border-radius:50%;background:#F2F3F8"></div>
<svg class="abs" style="left:1043.8px;top:766px" width="38" height="38" viewBox="0 0 38 38">
  <path d="M9 19 L29.6 19 M21.3 10.9 L29.6 19 L21.3 27.1" fill="none" stroke="#3A4A8C" stroke-width="1.9" stroke-linecap="round" stroke-linejoin="round"/>
</svg>
<div class="punum" style="left:740.5px;top:856.5px">35</div>
<div class="csilab" style="left:783.0px;top:858.5px">Groups</div>
<div class="punum" style="left:922.0px;top:856.5px">12</div>
<div class="csilab" style="left:964.0px;top:847.5px">Business<br>Admins</div>
<div class="punum" style="left:740.5px;top:933.0px">4</div>
<div class="csilab" style="left:783.0px;top:924.0px">Orphaned<br>Users</div>
<div class="punum" style="left:922.0px;top:933.0px">1</div>
<div class="csilab" style="left:964.0px;top:924.0px">Disabled<br>Users</div>
<div class="punum" style="left:740.5px;top:1006.5px">10</div>
<div class="csilab" style="left:783.0px;top:1008.5px">Groups</div>
<div class="punum" style="left:922.0px;top:1006.5px">32</div>
<div class="csilab" style="left:964.0px;top:997.5px">Business<br>Admins</div>
<div class="abs" style="left:736px;top:901.5px;width:150px;height:1.2px;background:#EDEFF5"></div>
<div class="abs" style="left:917.3px;top:901.5px;width:150px;height:1.2px;background:#EDEFF5"></div>
<div class="abs" style="left:736px;top:977.5px;width:150px;height:1.2px;background:#EDEFF5"></div>
<div class="abs" style="left:917.3px;top:977.5px;width:150px;height:1.2px;background:#EDEFF5"></div>

<!-- POLICIES PERFORMANCE -->
<div id="t_pp" class="htitle" style="left:1126px;top:774px;letter-spacing:0.88px">POLICIES PERFORMANCE</div>
<div id="n17" class="abs" style="left:1191px;top:826.5px;width:200px;text-align:center;font-size:52px;color:#33499A;line-height:1;letter-spacing:1px">17</div>
<div id="cfgp" class="abs" style="left:1141px;top:891px;width:300px;text-align:center;font-size:20px;font-weight:bold;color:#7587C8;line-height:1;letter-spacing:0.7px">Configured policies</div>
<svg class="abs" style="left:1120px;top:935px" width="340" height="30" viewBox="0 0 340 30">
  <path d="M6.4 8.3 H156.2 L169.7 21 L183.5 8.3 H333.6" fill="none" stroke="#C9D0F0" stroke-width="1.3"/>
</svg>
<div id="n273" class="abs" style="left:1191px;top:978.5px;width:200px;text-align:center;font-size:52px;color:#33499A;line-height:1;letter-spacing:1px">273</div>
</body></html>
